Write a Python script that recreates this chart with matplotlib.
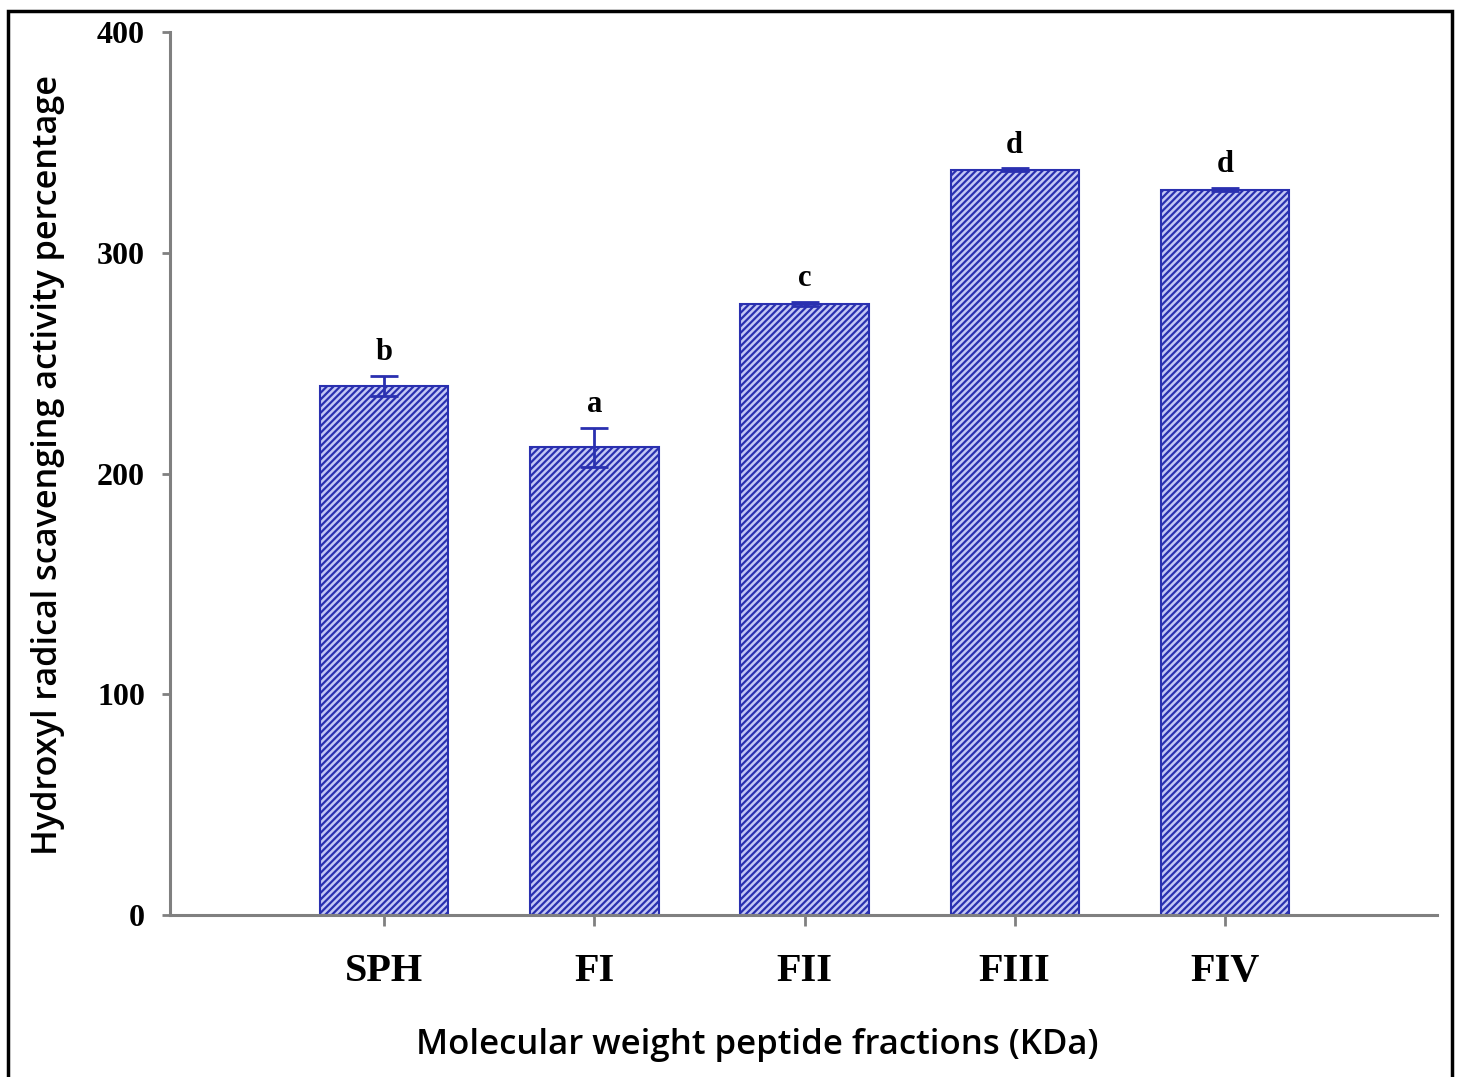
import numpy as np
import matplotlib
matplotlib.use('Agg')
import matplotlib.pyplot as plt
from matplotlib.patches import Rectangle

# data
fractions = ['SPH', 'FI', 'FII', 'FIII', 'FIV']
activity = [239.6, 211.8, 276.8, 337.6, 328.6]
errors = [4.5, 9.0, 1.0, 0.6, 0.6]
letters = ['b', 'a', 'c', 'd', 'd']
yticks = [0, 100, 200, 300, 400]

plt.rcParams['hatch.linewidth'] = 1.6
plt.rcParams['hatch.color'] = '#5157bb'

fig = plt.figure(figsize=(14.62, 10.77), dpi=100)
ax = fig.add_axes([0.1163, 0.1504, 0.8666, 0.8199])

x = np.arange(len(fractions))
ax.bar(x, activity, width=0.61, color='#c3c7f5', edgecolor='#2a30b0',
       linewidth=1.5, hatch='/////', zorder=2)
ax.errorbar(x, activity, yerr=errors, fmt='none', ecolor='#2a30b0',
            elinewidth=2, capsize=10, capthick=2, zorder=3)

for xi, v, e, lab in zip(x, activity, errors, letters):
    ax.text(xi, v + e + 4, lab, ha='center', va='bottom',
            family='Liberation Serif', fontweight='bold', fontsize=22)

ax.set_xlim(-1.02, 5.01)
ax.set_ylim(0, 400)
ax.set_yticks(yticks)
ax.set_xticks(x)
ax.set_xticklabels(fractions)

for lab in ax.get_yticklabels():
    lab.set_family('Liberation Serif')
    lab.set_fontweight('bold')
    lab.set_fontsize(23)
for lab in ax.get_xticklabels():
    lab.set_family('Liberation Serif')
    lab.set_fontweight('bold')
    lab.set_fontsize(29)

ax.spines['top'].set_visible(False)
ax.spines['right'].set_visible(False)
for s in ['left', 'bottom']:
    ax.spines[s].set_color('#808080')
    ax.spines[s].set_linewidth(2.2)
ax.tick_params(axis='y', length=6, width=2, color='#808080', pad=12)
ax.tick_params(axis='x', length=8, width=2, color='#808080', pad=19)

fig.text(0.518, 0.030, 'Molecular weight peptide fractions (KDa)',
         ha='center', va='center', family='Open Sans', fontweight='semibold',
         fontsize=25)
fig.text(0.033, 0.568, 'Hydroxyl radical scavenging activity percentage',
         ha='center', va='center', rotation=90, family='Open Sans',
         fontweight='semibold', fontsize=24.7)

# outer frame
fig.patches.append(Rectangle((0.0055, -0.05), 0.988, 1.04, transform=fig.transFigure,
                             fill=False, edgecolor='black', linewidth=2.5))

fig.savefig('out.png', dpi=100)
